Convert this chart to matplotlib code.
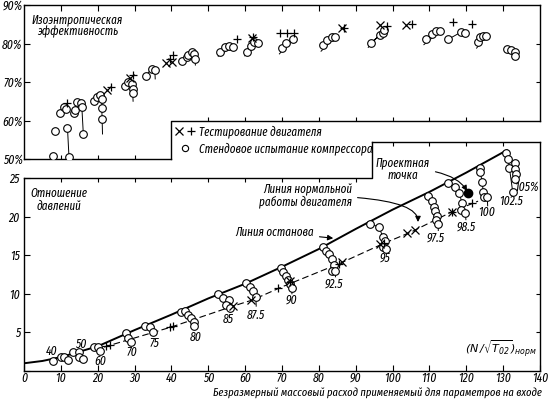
import matplotlib
matplotlib.use('Agg')
import matplotlib.pyplot as plt
import matplotlib.font_manager as fm
from matplotlib.ft2font import FT2Font
from matplotlib.lines import Line2D
from matplotlib.legend_handler import HandlerTuple

# the original uses a narrow italic drafting font: take the first narrow
# family that is installed and has Cyrillic (preferring one with a real italic)
CANDIDATES = ['Fira Sans Extra Condensed', 'Fira Sans Condensed',
              'Roboto Condensed', 'IBM Plex Sans Condensed', 'Cuprum',
              'PT Sans Narrow', 'Open Sans Condensed', 'Liberation Sans']


def has_cyrillic(path):
    try:
        return ord('ж') in FT2Font(path).get_charmap()
    except Exception:
        return False


def pick_font():
    entries = fm.fontManager.ttflist
    for need_italic in (True, False):
        for fam in CANDIDATES:
            faces = [f for f in entries if f.name == fam]
            if need_italic:
                faces = [f for f in faces if f.style in ('italic', 'oblique')]
            if any(has_cyrillic(f.fname) for f in faces):
                return fam
    return 'DejaVu Sans'


FONT = pick_font()
plt.rcParams['font.family'] = [FONT, 'DejaVu Sans']
plt.rcParams['font.style'] = 'italic'
plt.rcParams['mathtext.default'] = 'it'

# ---------------- upper panel: isentropic efficiency (%) ----------------
eff_x = [
    [7.9], [8.4], [9.9, 10.9, 11.4], [11.8, 12.2], [13.6, 13.8, 14.5],
    [15.4, 15.7, 16.1], [19.1, 19.9, 20.6, 21.1, 21.1, 21.2],
    [27.4, 28.3, 29.2, 29.5, 29.5], [33.0, 34.6, 35.5],
    [43.0, 44.1, 44.6, 45.5, 46.2, 46.4], [53.2, 54.4, 55.7, 56.6],
    [60.4, 61.6, 62.4, 63.6], [69.9, 71.1, 72.9], [81.2, 82.3, 83.5, 84.4],
    [94.1, 96.6, 97.5, 97.6], [109.2, 110.6, 111.8, 112.9],
    [115.1, 118.5, 119.6], [123.2, 123.7, 124.6, 125.3],
    [131.1, 132.0, 133.2, 133.2],
]
eff_y = [
    [50.8], [57.3], [61.9, 63.4, 62.9], [58.0, 50.6], [61.9, 62.7, 64.9],
    [64.5, 63.4, 56.4], [65.1, 66.0, 66.6, 65.5, 63.2, 60.3],
    [69.0, 70.1, 69.5, 68.1, 67.1], [71.6, 73.4, 73.1],
    [75.5, 76.4, 77.0, 77.7, 77.2, 75.9], [77.7, 79.2, 79.4, 79.2],
    [77.7, 79.4, 80.3, 80.1], [78.8, 80.1, 81.1], [79.6, 80.9, 81.8, 81.6],
    [80.2, 82.2, 82.6, 83.5], [81.1, 82.4, 83.2, 83.2],
    [81.1, 82.9, 82.8], [80.3, 81.6, 81.9, 81.9],
    [78.5, 78.3, 77.9, 76.8],
]
# end of the little drop line below some groups (None = no drop line)
eff_tail = [None, None, None, None, None, None, (21.3, 56.5), (29.6, 65.0),
            (35.6, 70.8), (46.5, 74.4), (52.7, 76.7), (59.9, 76.8),
            (69.3, 77.3), (80.6, 78.0), (93.4, 79.0), (108.5, 79.7), None,
            (122.8, 78.8), None]

eng_cross_eff_x = [22.6, 28.8, 38.4, 40.1, 61.9, 86.4, 96.6, 103.6]
eng_cross_eff_y = [67.9, 71.0, 74.9, 75.2, 81.5, 84.0, 84.8, 84.8]
eng_plus_eff_x = [11.6, 23.6, 29.7, 39.6, 40.5, 57.7, 62.1, 69.5, 71.3, 73.3,
                  86.8, 98.6, 105.2, 116.3, 121.5]
eng_plus_eff_y = [64.6, 68.6, 71.8, 75.9, 77.0, 81.2, 81.6, 82.7, 82.7, 82.7,
                  84.0, 84.5, 85.1, 85.5, 85.1]

# ---------------- lower panel: pressure ratio ----------------
speed_labels = ['40', '50', '60', '70', '75', '80', '85', '87.5', '90', '92.5',
                '95', '97.5', '98.5', '100', '102.5', '105%']
label_x = [7.4, 15.3, 20.8, 29.3, 35.5, 46.6, 55.3, 63.0, 72.6, 84.2,
           98.0, 111.7, 120.0, 125.5, 132.2, 136.4]
label_y = [2.5, 3.4, 1.3, 2.4, 3.6, 4.4, 6.7, 7.2, 9.2, 11.3,
           14.6, 17.2, 18.6, 20.5, 22.0, 23.8]

pr_x = [
    [7.9, 10.0, 10.9, 12.0], [13.4, 14.8, 14.8, 15.9], [19.1, 20.2, 20.7],
    [27.6, 28.2, 28.9], [32.8, 34.2, 35.0],
    [42.7, 43.7, 44.5, 45.3, 46.0, 46.0], [52.7, 53.9, 55.6, 54.7, 55.8],
    [60.2, 61.4, 62.2, 62.9], [69.6, 70.3, 71.0, 71.7, 72.3, 72.6],
    [81.2, 82.0, 82.8, 83.6, 84.0, 83.5, 84.5],
    [94.0, 96.4, 97.3, 97.9, 97.4, 98.2],
    [109.6, 110.8, 111.3, 111.6, 112.0, 111.8, 112.4],
    [115.1, 116.9, 118.1, 118.8, 118.7, 119.7],
    [123.6, 123.8, 124.3, 124.6, 124.9, 125.7],
    [130.9, 131.3, 131.7, 132.6], [133.3, 133.2, 133.5, 133.2],
]
pr_y = [
    [1.35, 1.85, 1.8, 1.4], [2.4, 2.4, 1.8, 1.5], [3.15, 3.1, 2.6],
    [4.9, 4.3, 3.7], [5.8, 5.7, 5.0],
    [7.6, 7.8, 7.3, 6.9, 6.4, 5.8], [10.0, 9.4, 9.2, 8.6, 8.1],
    [11.4, 10.9, 10.3, 9.6], [13.3, 12.8, 12.3, 11.8, 11.3, 10.8],
    [16.1, 15.6, 15.1, 14.5, 13.7, 13.0, 13.0],
    [19.1, 18.6, 17.4, 16.8, 16.1, 15.8],
    [22.7, 22.0, 21.3, 20.7, 20.1, 19.6, 19.0],
    [24.3, 23.8, 23.1, 21.8, 20.9, 20.5],
    [26.3, 25.8, 24.5, 23.2, 22.5, 22.5],
    [28.3, 27.5, 26.3, 23.2], [26.9, 26.2, 25.5, 24.9],
]
pr_tail = [None, None, None, None, None, None, (55.9, 7.6), (63.0, 8.4),
           (72.7, 10.0), (84.5, 12.2), (98.3, 15.3), (112.4, 18.2),
           (119.9, 19.6), (125.8, 21.4), None, None]

surge_x = [0, 5, 10, 20, 30, 40, 50, 60, 70, 80, 90, 100, 110, 120, 131]
surge_y = [1.0, 1.3, 1.8, 3.2, 5.3, 7.3, 9.4, 11.3, 13.5, 15.8, 18.4, 20.9,
           23.2, 25.7, 28.6]

work_x = [21.7, 40, 57, 62, 70, 86, 97, 105, 116, 123.2]
work_y = [3.1, 5.7, 8.45, 9.2, 10.9, 14.0, 16.4, 18.0, 20.6, 22.0]

eng_plus_x = [22.3, 23.4, 39.5, 40.4, 69.0, 72.3, 85.6, 97.6, 116.0, 121.5]
eng_plus_y = [3.2, 3.35, 5.65, 5.8, 10.8, 11.5, 13.9, 16.6, 20.6, 21.8]
eng_cross_x = [56.8, 61.7, 72.2, 86.4, 96.6, 104.0, 106.0, 116.0]
eng_cross_y = [8.4, 9.2, 11.6, 14.1, 16.4, 17.9, 18.2, 20.6]

design_x = [120.6]
design_y = [23.0]

XLABEL = 'Безразмерный массовый расход применяемый для параметров на входе'

# ---------------- layout (pixel boxes of the two frames) ----------------
W, H = 550, 399
fig = plt.figure(figsize=(W / 100, H / 100), dpi=100)
renderer = fig.canvas.get_renderer()


def fit_size(s, target_px, ref=10.0):
    # font size at which string s is target_px wide in the chosen font
    t = fig.text(0, 0, s, fontsize=ref)
    w = t.get_window_extent(renderer).width
    t.remove()
    return ref * target_px / w


FS_TXT = fit_size(XLABEL, 346)
FS_XLAB = FS_TXT * 0.95
FS_TICK = min(fit_size('140', 19), 9.0)
FS_PCT = min(fit_size('90%', 21), FS_TICK)
FS_NUM = min(FS_TICK, fit_size('87.5', 20))
FS_PX = FS_TXT * 100 / 72


def box(l, t, r, b):
    return [l / W, 1 - b / H, (r - l) / W, (b - t) / H]


ax_e = fig.add_axes(box(24, 5, 540, 159))
ax_p = fig.add_axes(box(24, 142, 540, 371))
P_TOP = 25 * (371 - 142) / (371 - 178)
for ax in (ax_e, ax_p):
    ax.patch.set_visible(False)
    for s in ax.spines.values():
        s.set_linewidth(1.0)
    ax.tick_params(direction='in', length=4, width=0.8, labelsize=FS_TICK, pad=2)

ax_e.set_xlim(0, 140)
ax_e.set_ylim(50, 90)
ax_p.set_xlim(0, 140)
ax_p.set_ylim(0, P_TOP)

TICK = 4  # px


def tick_h(ax, xs, y, sign=1):
    dy = (ax.get_ylim()[1] - ax.get_ylim()[0]) / (ax.get_position().height * H)
    ax.vlines(xs, y, y + sign * TICK * dy, colors='k', lw=0.8, clip_on=False)


def tick_v(ax, ys, x, sign=-1):
    dx = 140 / (ax.get_position().width * W)
    ax.hlines(ys, x, x + sign * TICK * dx, colors='k', lw=0.8, clip_on=False)


# upper frame with the notch for the legend
ax_e.spines['bottom'].set_bounds(0, 40)
ax_e.spines['right'].set_bounds(60, 90)
ax_e.plot([40, 40, 140], [50, 60, 60], color='k', lw=1.0, clip_on=False)
ax_e.set_xticks(range(10, 140, 10))
ax_e.tick_params(axis='x', bottom=False, top=True, labelbottom=False)
ax_e.set_yticks([50, 60, 70, 80, 90])
ax_e.set_yticklabels(['50%', '60%', '70%', '80%', '90%'])
ax_e.tick_params(axis='y', right=False, pad=1.0, labelsize=FS_PCT)
tick_h(ax_e, [10, 20, 30], 50, 1)
tick_h(ax_e, range(50, 140, 10), 60, 1)
tick_v(ax_e, [70, 80], 140, -1)

# lower frame with the notch at the top right
ax_p.spines['left'].set_bounds(0, 25)
ax_p.spines['top'].set_bounds(94.5, 140)
ax_p.plot([0, 94.5, 94.5], [25, 25, P_TOP], color='k', lw=1.0, clip_on=False)
ax_p.set_xticks(range(0, 150, 10))
ax_p.tick_params(axis='x', top=False, pad=0.8)
ax_p.set_yticks([0, 5, 10, 15, 20, 25])
ax_p.set_yticklabels(['', '5', '10', '15', '20', '25'])
ax_p.tick_params(axis='y', right=False, pad=3)
tick_h(ax_p, range(10, 100, 10), 25, -1)
tick_h(ax_p, range(100, 140, 10), P_TOP, -1)
tick_v(ax_p, [5, 10, 15, 20], 140, -1)

mk = dict(ls='none', color='k', ms=5.5, mew=0.9)
circ = dict(marker='o', ms=5.5, mfc='white', mec='k', mew=0.8)

# ---- upper panel data
for xs, ys, tail in zip(eff_x, eff_y, eff_tail):
    lx, ly = list(xs), list(ys)
    if tail:
        lx.append(tail[0])
        ly.append(tail[1])
    ax_e.plot(lx, ly, color='k', lw=0.7, zorder=2)
    ax_e.plot(xs, ys, ls='none', zorder=3, **circ)
ax_e.plot(eng_cross_eff_x, eng_cross_eff_y, marker='x', zorder=4, **mk)
ax_e.plot(eng_plus_eff_x, eng_plus_eff_y, marker='+', zorder=4, **mk)

ax_e.text(14.5, 84.6, 'Изоэнтропическая\nэффективность', ha='center',
          va='center', fontsize=FS_TXT, linespacing=1.0)

h_cross = Line2D([], [], marker='x', **mk)
h_plus = Line2D([], [], marker='+', **mk)
h_circ = Line2D([], [], ls='none', marker='o', ms=4.5, mfc='white', mec='k',
                mew=0.8)
ax_e.legend([(h_cross, h_plus), h_circ],
            ['Тестирование двигателя', 'Стендовое испытание компрессора'],
            handler_map={tuple: HandlerTuple(ndivide=None, pad=4.5 / FS_PX)},
            loc='upper left', bbox_to_anchor=(176 / W, 1 - 125 / H),
            bbox_transform=fig.transFigure, frameon=False, fontsize=FS_TXT,
            handlelength=18 / FS_PX, handletextpad=5 / FS_PX, borderpad=0,
            borderaxespad=0, labelspacing=max(19 / FS_PX - 1.2, 0.1))

# ---- lower panel data
ax_p.plot(surge_x, surge_y, color='k', lw=1.4, zorder=2)
ax_p.plot(work_x, work_y, color='k', lw=0.8, dashes=(6, 3), zorder=2)
for xs, ys, tail in zip(pr_x, pr_y, pr_tail):
    lx, ly = list(xs), list(ys)
    if tail:
        lx.append(tail[0])
        ly.append(tail[1])
    ax_p.plot(lx, ly, color='k', lw=0.7, zorder=3)
    ax_p.plot(xs, ys, ls='none', zorder=4, **circ)
for t, x, y in zip(speed_labels, label_x, label_y):
    ax_p.text(x, y, t, ha='center', va='center', fontsize=FS_NUM)
ax_p.plot(eng_cross_x, eng_cross_y, marker='x', zorder=5, **mk)
ax_p.plot(eng_plus_x, eng_plus_y, marker='+', zorder=5, **mk)
ax_p.plot(design_x, design_y, ls='none', marker='o', ms=6, mfc='k', mec='k',
          zorder=6)

ax_p.text(9.5, 22.2, 'Отношение\nдавлений', ha='center', va='center',
          fontsize=FS_TXT, linespacing=1.0)

arrow = dict(arrowstyle='-|>', color='k', lw=0.8, mutation_scale=8,
             shrinkA=2, shrinkB=0)
ax_p.annotate('Линия останова', xy=(83.9, 17.2), xytext=(68.0, 18.0),
              ha='center', va='center', fontsize=FS_TXT, arrowprops=arrow)
ax_p.annotate('Линия нормальной\nработы двигателя', xy=(106.9, 19.3),
              xytext=(89.0, 22.7), ha='right', va='center', fontsize=FS_TXT,
              linespacing=1.0, multialignment='right',
              arrowprops=dict(arrow, connectionstyle='angle3,angleA=0,angleB=90'))
ax_p.annotate('Проектная\nточка', xy=(120.2, 23.3), xytext=(102.8, 26.2),
              ha='center', va='center', fontsize=FS_TXT, linespacing=1.0,
              arrowprops=dict(arrow, connectionstyle='angle3,angleA=0,angleB=120'))
ax_p.text(129.4, 2.85, r'$(N\,/\sqrt{T_{02}})_{норм}$', ha='center',
          va='center', fontsize=8)

fig.text(377 / W, 1 - 395.5 / H, XLABEL, ha='center', va='baseline',
         fontsize=FS_XLAB)

fig.savefig('out.png', dpi=100)
